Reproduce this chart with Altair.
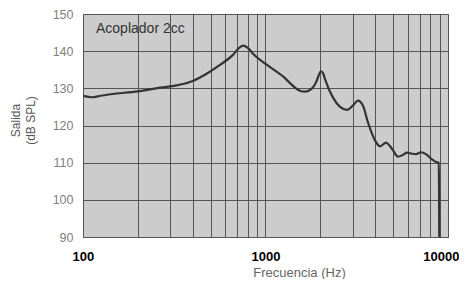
import altair as alt
import pandas as pd

freq = [100, 112, 125, 141, 200, 265, 325, 400, 478, 563, 663, 710, 753, 800, 854, 1006,
        1247, 1469, 1550, 1646, 1800, 1900, 1960, 2014, 2070, 2118, 2344, 2561, 2797, 3015,
        3213, 3422, 3645, 3981, 4240, 4574, 4800, 4999, 5323, 5666, 5960, 6350,
        6680, 7110, 7570, 8170, 8600, 8900, 8930, 8960]
spl = [128.0, 127.6, 128.0, 128.4, 129.2, 130.2, 130.8, 132.0, 134.0, 136.3,
       139.0, 140.7, 141.5, 140.9, 139.3, 136.5, 133.2, 130.0, 129.3, 129.1, 130.0,
       131.8, 133.6, 134.6, 134.0, 132.5, 127.5, 125.0, 124.2, 125.4, 126.7, 125.3,
       120.8, 116.0, 114.4, 115.4, 114.5, 113.3, 111.6, 112.1, 112.7, 112.4, 112.3,
       112.8, 112.3, 110.9, 110.2, 110.0, 103.5, 88.0]

grid_x = [100, 200, 300, 400, 500, 600, 700, 800, 900,
          1000, 2000, 3000, 4000, 5000, 6000, 7000, 8000, 9000, 10000]
y_ticks = [90, 100, 110, 120, 130, 140, 150]
annotation = "Acoplador 2cc"

df = pd.DataFrame({"f": freq, "db": spl})

base = alt.Chart(df)

line = base.mark_line(color="#333333", strokeWidth=2.2, interpolate="monotone", clip=True).encode(
    x=alt.X("f:Q",
            scale=alt.Scale(type="log", domain=[100, 10000], nice=False),
            axis=alt.Axis(values=grid_x, grid=True, gridColor="#555555", gridOpacity=1,
                          gridWidth=1, ticks=False, domain=False, format="d",
                          labelExpr="(datum.value == 100 || datum.value == 1000 || datum.value == 10000) ? datum.label : ''",
                          labelColor="#000000", labelFont="Liberation Sans", labelFontSize=13,
                          labelFontWeight="bold",
                          labelPadding=13, labelFlush=True, labelFlushOffset=11,
                          title="Frecuencia (Hz)", titleFont="Liberation Sans",
                          titleFontSize=13, titleFontWeight="normal", titleColor="#666666",
                          titleX=216, titleY=35, titleBaseline="middle", titleAnchor=None)),
    y=alt.Y("db:Q",
            scale=alt.Scale(domain=[90, 150], nice=False, zero=False),
            axis=alt.Axis(values=y_ticks, grid=True, gridColor="#555555", gridOpacity=1,
                          gridWidth=1, ticks=False, domain=False,
                          labelColor="#808080", labelFont="Liberation Sans", labelFontSize=12.5,
                          labelPadding=10,
                          title=["Salida", "(dB SPL)"], titleFont="Liberation Sans",
                          titleFontSize=12, titleFontWeight="normal", titleColor="#555555",
                          titleLineHeight=15,
                          titleAngle=270, titleAlign="center", titleBaseline="top",
                          titleX=-73, titleY=106)),
)

label = alt.Chart(pd.DataFrame({"t": [annotation]})).mark_text(
    align="left", baseline="middle", font="Liberation Sans", fontSize=14, color="#333333"
).encode(x=alt.value(13), y=alt.value(15), text="t:N")

chart = alt.layer(line, label).properties(
    width=365, height=223,
    autosize=alt.AutoSizeParams(type="none"),
    padding={"left": 75, "top": 6, "right": 11, "bottom": 42},
).configure_view(fill="#cccccc", stroke="#666666", strokeWidth=1)

chart.save("out.html", embed_options={"renderer": "svg", "actions": False})
